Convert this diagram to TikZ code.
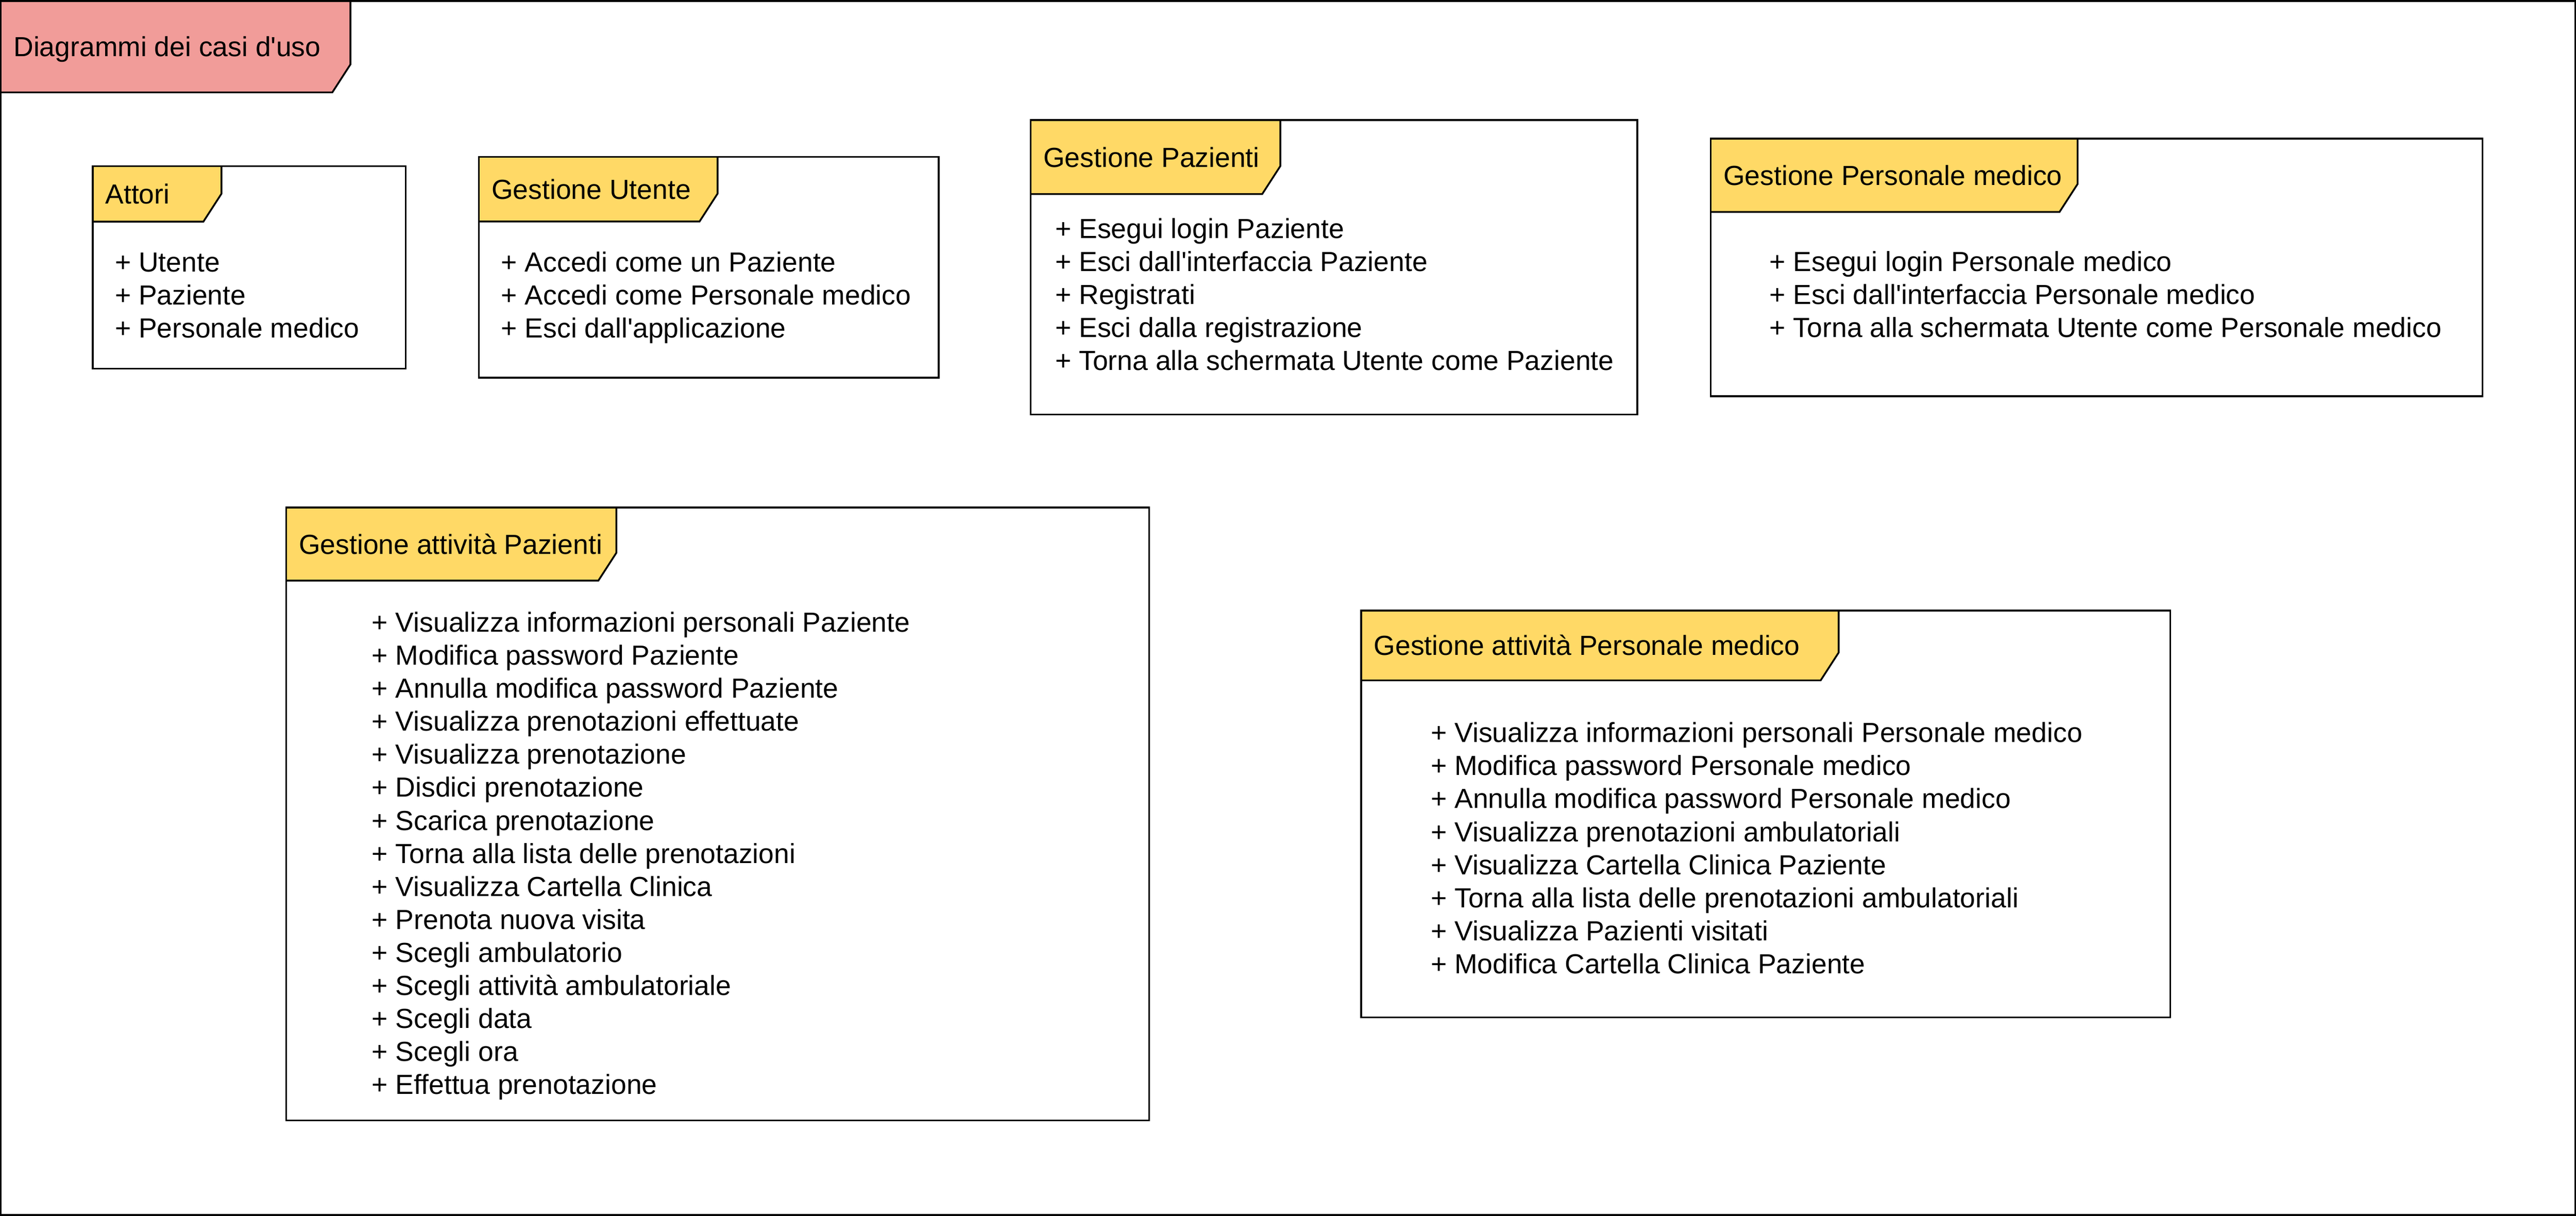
\documentclass[tikz,border=0pt]{standalone}
\usepackage{fontspec}
\newfontfamily\arial{Liberation Sans}
\definecolor{tabgelb}{HTML}{FFD966}
\definecolor{tabrot}{HTML}{F19C99}

\begin{document}
\begin{tikzpicture}[x=0.6pt,y=-0.6pt,line width=0.65pt,
	titel/.style={anchor=base west,inner sep=0pt,font=\arial\fontsize{10.07}{12}\selectfont},
	item/.style={titel}]

\useasboundingbox (0,0) rectangle (1568,740);

% #1 farbe, #2 name, #3-#6 rahmen, #7 #8 reiter, #9 titel
\def\paket#1#2#3#4#5#6#7#8#9{
	\fill[color=#1] (#3,#4) -- (#7,#4) -- (#7,{#8-17}) -- ({#7-11},#8) -- (#3,#8) -- cycle;
	\draw (#3,#4) rectangle (#5,#6);
	\draw (#7,#4) -- (#7,{#8-17}) -- ({#7-11},#8) -- (#3,#8);
	\node[titel] (#2) at ({#3+7.2},{(#4+#8)/2+6}) {#9};
}
\def\posten#1#2#3#4{
	\foreach \txt [count=\i] in {#4}{
		\node[item] (#1-\i) at (#2,{#3+20.1*(\i-1)}) {\txt};
	}
}

\paket{tabrot}{diagramm}{0.55}{0.55}{1567.45}{739.45}{213.3}{56.2}{Diagrammi dei casi d'uso}

\paket{tabgelb}{attori}{56.4}{101.2}{246.9}{224.4}{134.8}{134.9}{Attori}
\posten{attori}{69.4}{165.4}{+ Utente,+ Paziente,+ Personale medico}

\paket{tabgelb}{utente}{291.5}{95.5}{571.3}{229.9}{436.8}{134.8}{Gestione Utente}
\posten{utente}{304.5}{165.3}{+ Accedi come un Paziente,
	+ Accedi come Personale medico,
	+ Esci dall'applicazione}

\paket{tabgelb}{pazienti}{627.4}{73.1}{996.6}{252.3}{779.3}{118.1}{Gestione Pazienti}
\posten{pazienti}{641.8}{144.9}{+ Esegui login Paziente,
	+ Esci dall'interfaccia Paziente,
	+ Registrati,
	+ Esci dalla registrazione,
	+ Torna alla schermata Utente come Paziente}

\paket{tabgelb}{personale}{1041.3}{84.4}{1511.1}{241.2}{1264.6}{129}{Gestione Personale medico}
\posten{personale}{1076.6}{165}{+ Esegui login Personale medico,
	+ Esci dall'interfaccia Personale medico,
	+ Torna alla schermata Utente come Personale medico}

\paket{tabgelb}{attpaz}{174.2}{308.9}{699.5}{681.9}{375.2}{353.4}{Gestione attività Pazienti}
\posten{attpaz}{225.8}{384.6}{+ Visualizza informazioni personali Paziente,
	+ Modifica password Paziente,
	+ Annulla modifica password Paziente,
	+ Visualizza prenotazioni effettuate,
	+ Visualizza prenotazione,
	+ Disdici prenotazione,
	+ Scarica prenotazione,
	+ Torna alla lista delle prenotazioni,
	+ Visualizza Cartella Clinica,
	+ Prenota nuova visita,
	+ Scegli ambulatorio,
	+ Scegli attività ambulatoriale,
	+ Scegli data,
	+ Scegli ora,
	+ Effettua prenotazione}

\paket{tabgelb}{attpers}{828.5}{371.6}{1321}{619.1}{1119.2}{414.1}{Gestione attività Personale medico}
\posten{attpers}{870.4}{451.8}{+ Visualizza informazioni personali Personale medico,
	+ Modifica password Personale medico,
	+ Annulla modifica password Personale medico,
	+ Visualizza prenotazioni ambulatoriali,
	+ Visualizza Cartella Clinica Paziente,
	+ Torna alla lista delle prenotazioni ambulatoriali,
	+ Visualizza Pazienti visitati,
	+ Modifica Cartella Clinica Paziente}

\end{tikzpicture}
\end{document}
